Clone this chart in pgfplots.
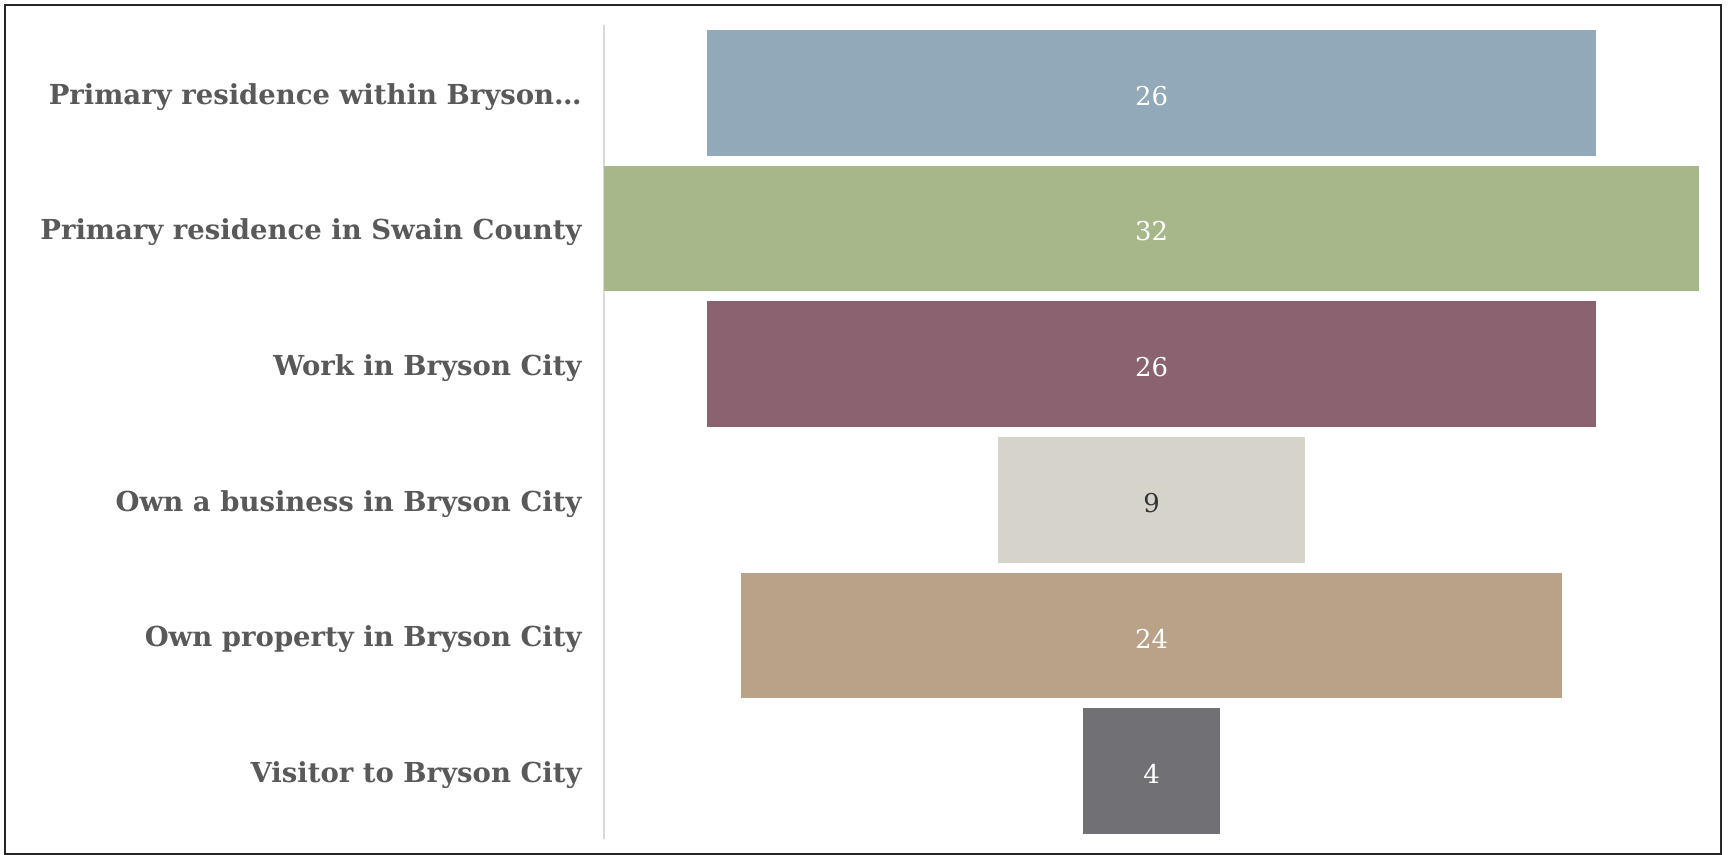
\documentclass[border=0pt]{standalone}
\usepackage{pgfplots}
\pgfplotsset{compat=1.18}
\usepackage{pgfplotstable}
\usepackage{fontspec}
\setmainfont{DejaVu Serif}
\definecolor{cA}{HTML}{92A9B9}
\definecolor{cB}{HTML}{A7B789}
\definecolor{cC}{HTML}{8B6270}
\definecolor{cD}{HTML}{D6D3CB}
\definecolor{cE}{HTML}{BAA288}
\definecolor{cF}{HTML}{717075}
\definecolor{lbl}{HTML}{595959}
\pgfplotstableread{
y off a b c d e f
0 3 26 0 0 0 0 0
1 0 0 32 0 0 0 0
2 3 0 0 26 0 0 0
3 11.5 0 0 0 9 0 0
4 4 0 0 0 0 24 0
5 14 0 0 0 0 0 4
}\data
\pgfplotstableread{
x y label
16 0 26
16 1 32
16 2 26
16 4 24
16 5 4
}\whitelabels
\pgfplotstableread{
x y label
16 3 9
}\darklabels
\begin{document}
\begin{tikzpicture}
\useasboundingbox (0,0) rectangle (864.5bp,427.5bp);
\draw[line width=1.2bp, color=black!85] (2.5bp,0.6bp) rectangle (860.5bp,425bp);
\begin{axis}[
  at={(302bp,8bp)}, anchor=south west,
  scale only axis, width=547.5bp, height=407bp,
  xbar stacked, bar width=62.85bp,
  xmin=0, xmax=32, ymin=-0.5, ymax=5.5,
  y dir=reverse,
  axis x line=none,
  axis y line*=left,
  y axis line style={draw=black!15, line width=0.8bp, -},
  ytick={0,1,2,3,4,5},
  yticklabels={{Primary residence within Bryson\ldots},{Primary residence in Swain County},{Work in Bryson City},{Own a business in Bryson City},{Own property in Bryson City},{Visitor to Bryson City}},
  major tick length=0pt,
  yticklabel style={font=\bfseries\fontsize{13.8}{16}\selectfont, text=lbl, anchor=east, inner sep=0pt, xshift=-11bp, yshift=-2bp},
  every axis plot/.append style={draw=none},
  clip=false,
]
\addplot[fill=none, draw=none] table[x=off, y=y] {\data};
\addplot[fill=cA] table[x=a, y=y] {\data};
\addplot[fill=cB] table[x=b, y=y] {\data};
\addplot[fill=cC] table[x=c, y=y] {\data};
\addplot[fill=cD] table[x=d, y=y] {\data};
\addplot[fill=cE] table[x=e, y=y] {\data};
\addplot[fill=cF] table[x=f, y=y] {\data};
\end{axis}
\begin{axis}[
  at={(302bp,8bp)}, anchor=south west,
  scale only axis, width=547.5bp, height=407bp,
  xmin=0, xmax=32, ymin=-0.5, ymax=5.5,
  y dir=reverse, hide axis, clip=false,
]
\addplot[only marks, mark=none, nodes near coords, point meta=explicit symbolic,
  nodes near coords align=center,
  every node near coord/.append style={font=\fontsize{13}{15}\selectfont, text=white, anchor=center, yshift=-1.5bp}]
  table[x=x, y=y, meta=label] {\whitelabels};
\addplot[only marks, mark=none, nodes near coords, point meta=explicit symbolic,
  nodes near coords align=center,
  every node near coord/.append style={font=\fontsize{13}{15}\selectfont, text=black!80, anchor=center, yshift=-1.5bp}]
  table[x=x, y=y, meta=label] {\darklabels};
\end{axis}
\end{tikzpicture}
\end{document}
